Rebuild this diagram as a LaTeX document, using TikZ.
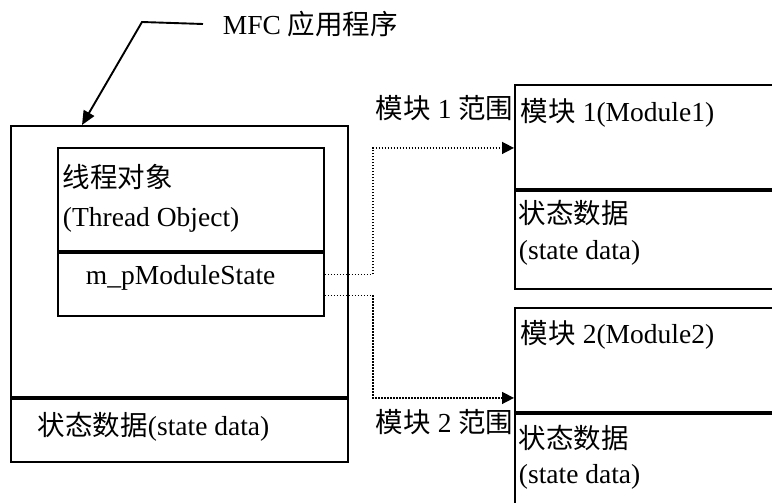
\documentclass[tikz,border=0pt]{standalone}
\usepackage{fontspec}
\setmainfont{Liberation Serif}
\newfontfamily\cjk{Noto Sans CJK SC}
\newcommand{\zh}[1]{{\cjk #1}}
\usetikzlibrary{arrows.meta}

\begin{document}
\begin{tikzpicture}[
	x=1pt, y=-1pt,
	line width=1.9pt,
	font=\fontsize{27.5}{32}\selectfont,
	part/.style={
		draw,
		anchor=north west,
		inner sep=0pt
	},
	lbl/.style={
		anchor=west,
		inner sep=0pt
	},
	link/.style={
		line width=1.5pt,
		dash pattern=on 1.5pt off 1.5pt,
		-{Triangle[length=12pt,width=12pt]}
	}
	]
	\clip (0,0) rectangle (772,503);
	
	% MFC application with thread object
	\node[part, minimum width=337pt, minimum height=271pt] (app)   at (10,125) {};
	\node[part, minimum width=337pt, minimum height=63pt]  (appst) at (app.south west) {};
	\node[part, minimum width=266pt, minimum height=103pt] (thr)   at (57,147) {};
	\node[part, minimum width=266pt, minimum height=63pt]  (thrst) at (thr.south west) {};
	
	% modules
	\node[part, minimum width=300pt, minimum height=104pt] (mod1)   at (514,84) {};
	\node[part, minimum width=300pt, minimum height=98pt]  (mod1st) at (mod1.south west) {};
	\node[part, minimum width=300pt, minimum height=104pt] (mod2)   at (514,307) {};
	\node[part, minimum width=300pt, minimum height=120pt] (mod2st) at (mod2.south west) {};
	
	\node[lbl] (title) at (222,24) {MFC \zh{应用程序}};
	\node[lbl] (thrzh) at (62,177) {\zh{线程对象}};
	\node[lbl] (thren) at (62,220) {(Thread Object)};
	\node[lbl] (mps)   at (85,278) {m\_pModuleState};
	\node[lbl] (appsd) at (37,427) {\zh{状态数据}(state data)};
	
	\node[lbl] (r1) at (375,108) {\zh{模块} 1 \zh{范围}};
	\node[lbl] (r2) at (375,422) {\zh{模块} 2 \zh{范围}};
	
	\node[lbl] (m1)   at (520,113) {\zh{模块} 1(Module1)};
	\node[lbl] (m1zh) at (518,213) {\zh{状态数据}};
	\node[lbl] (m1en) at (518,253) {(state data)};
	\node[lbl] (m2)   at (520,335) {\zh{模块} 2(Module2)};
	\node[lbl] (m2zh) at (518,438) {\zh{状态数据}};
	\node[lbl] (m2en) at (518,477) {(state data)};
	
	\coordinate (bend) at (142,22);
	\draw[-{Triangle[length=14pt,width=12pt]}] ([xshift=-19pt]title.west) -- (bend) -- ([xshift=72pt]app.north west);
	
	\draw[link] ([yshift=10pt]thrst.east)  -- ++(48,0) |- ([yshift=-11pt]mod1.west);
	\draw[link] ([yshift=-11pt]thrst.east) -- ++(48,0) |- ([yshift=-38pt]mod2.west);
	
\end{tikzpicture}
\end{document}
